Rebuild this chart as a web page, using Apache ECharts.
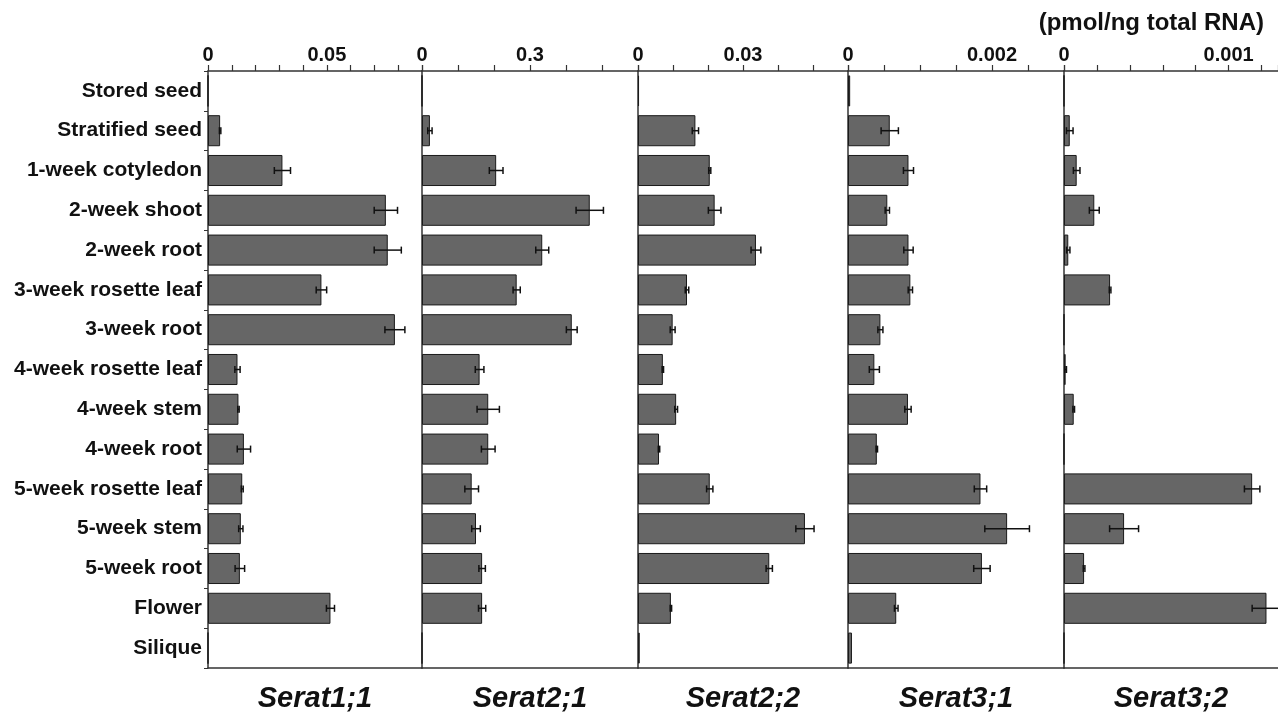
<!DOCTYPE html>
<html>
<head>
<meta charset="utf-8">
<script src="https://cdn.jsdelivr.net/npm/echarts@6/dist/echarts.min.js"></script>
<style>html,body{margin:0;padding:0;background:#fff;}#c{width:1278px;height:715px;}</style>
</head>
<body>
<div id="c"></div>
<script>
const categories = ['Stored seed','Stratified seed','1-week cotyledon','2-week shoot','2-week root','3-week rosette leaf','3-week root','4-week rosette leaf','4-week stem','4-week root','5-week rosette leaf','5-week stem','5-week root','Flower','Silique'];

const geneNames = ['Serat1;1','Serat2;1','Serat2;2','Serat3;1','Serat3;2'];

const serat11 = [0, 0.0051, 0.0313, 0.0748, 0.0756, 0.0477, 0.0786, 0.0124, 0.0128, 0.0151, 0.0144, 0.0138, 0.0134, 0.0515, 0];
const serat11Err = [0, 0.0003, 0.0034, 0.0049, 0.0057, 0.0022, 0.0042, 0.0011, 0.0003, 0.0028, 0.0004, 0.0009, 0.0020, 0.0017, 0];

const serat21 = [0, 0.022, 0.206, 0.466, 0.334, 0.263, 0.416, 0.160, 0.184, 0.184, 0.138, 0.150, 0.167, 0.167, 0];
const serat21Err = [0, 0.006, 0.019, 0.038, 0.018, 0.010, 0.015, 0.012, 0.031, 0.019, 0.019, 0.012, 0.009, 0.010, 0];

const serat22 = [0.0003, 0.0164, 0.0205, 0.0219, 0.0337, 0.0140, 0.0099, 0.0071, 0.0109, 0.0060, 0.0205, 0.0477, 0.0375, 0.0094, 0.0005];
const serat22Err = [0, 0.0009, 0.0003, 0.0018, 0.0014, 0.0005, 0.0007, 0.0002, 0.0004, 0.0002, 0.0009, 0.0026, 0.0009, 0.0002, 0];

const serat31 = [0.00003, 0.00058, 0.00084, 0.000546, 0.00084, 0.000866, 0.00045, 0.000366, 0.000833, 0.0004, 0.00184, 0.00221, 0.00186, 0.00067, 0.000055];
const serat31Err = [0, 0.00012, 0.00007, 0.00003, 0.000065, 0.00003, 0.000035, 0.00007, 0.000044, 0.00001, 0.000086, 0.00031, 0.000114, 0.000025, 0];

const serat32 = [0, 0.000035, 0.000077, 0.000184, 0.000026, 0.00028, 0, 0.00001, 0.000059, 0, 0.001143, 0.000365, 0.000122, 0.00123, 0];
const serat32Err = [0, 0.00002, 0.00002, 0.00003, 0.00001, 0.000005, 0, 0.000005, 0.000005, 0, 0.000047, 0.000088, 0.000005, 0.000087, 0];

const axisMax = [0.09, 0.6, 0.06, 0.003, 0.0013];
const axisInterval = [0.01, 0.1, 0.01, 0.0005, 0.0002];
const tickLabels = [[0, 0.05], [0, 0.3], [0, 0.03], [0, 0.002], [0, 0.001]];

const unitTitle = '(pmol/ng total RNA)';

const values = [serat11, serat21, serat22, serat31, serat32];
const errors = [serat11Err, serat21Err, serat22Err, serat31Err, serat32Err];

const gridLeft = [208, 422, 638, 848, 1064];
const gridWidth = [214, 216, 210, 216, 214];

const FONT = '"Liberation Sans", Arial, Helvetica, sans-serif';
const AXIS_COLOR = '#333';

const grids = [], xAxes = [], yAxes = [], series = [];
for (let i = 0; i < 5; i++) {
  grids.push({ left: gridLeft[i], width: gridWidth[i], top: 71, height: 597, outerBoundsMode: 'none', containLabel: false });
  const labs = tickLabels[i];
  xAxes.push({
    type: 'value', gridIndex: i, position: 'top', min: 0, max: axisMax[i], interval: axisInterval[i],
    axisLine: { show: true, lineStyle: { color: AXIS_COLOR, width: 1.5 } },
    axisTick: { show: true, length: 6, lineStyle: { color: AXIS_COLOR, width: 1.2 } },
    splitLine: { show: false },
    axisLabel: {
      show: true, margin: 6, fontFamily: FONT, fontWeight: 'bold', fontSize: 20, color: '#111',
      showMinLabel: true, showMaxLabel: true,
      formatter: function (v) {
        for (const t of labs) { if (Math.abs(v - t) < axisInterval[i] * 1e-3) return String(t); }
        return '';
      }
    }
  });
  xAxes.push({
    type: 'value', gridIndex: i, position: 'bottom', min: 0, max: axisMax[i],
    axisLine: { show: true, lineStyle: { color: AXIS_COLOR, width: 1.5 } },
    axisTick: { show: false }, axisLabel: { show: false }, splitLine: { show: false },
    name: geneNames[i], nameLocation: 'middle', nameGap: 16,
    nameTextStyle: { fontFamily: FONT, fontWeight: 'bold', fontStyle: 'italic', fontSize: 29, color: '#111', verticalAlign: 'top' }
  });
  yAxes.push({
    type: 'category', gridIndex: i, data: categories, inverse: true,
    axisLine: { show: true, onZero: false, lineStyle: { color: AXIS_COLOR, width: 1.5 } },
    axisTick: { show: i === 0, length: 4, lineStyle: { color: AXIS_COLOR, width: 1 } },
    axisLabel: { show: i === 0, margin: 6, fontFamily: FONT, fontWeight: 'bold', fontSize: 21, color: '#111' },
    splitLine: { show: false }
  });
  series.push({
    type: 'bar', xAxisIndex: i * 2, yAxisIndex: i, data: values[i], barCategoryGap: '22%',
    itemStyle: { color: '#666666', borderColor: '#1a1a1a', borderWidth: 1 },
    silent: true, animation: false
  });
  const errData = [];
  values[i].forEach((v, k) => { if (errors[i][k] > 0) errData.push([v - errors[i][k], v + errors[i][k], k]); });
  series.push({
    type: 'custom', xAxisIndex: i * 2, yAxisIndex: i, data: errData, animation: false, silent: true,
    encode: { x: [0, 1], y: 2 }, z: 5,
    renderItem: function (params, api) {
      const lo = api.coord([api.value(0), api.value(2)]);
      const hi = api.coord([api.value(1), api.value(2)]);
      const c = 3.5;
      const st = { stroke: '#111', lineWidth: 1.5 };
      return { type: 'group', children: [
        { type: 'line', shape: { x1: lo[0], y1: lo[1], x2: hi[0], y2: hi[1] }, style: st },
        { type: 'line', shape: { x1: lo[0], y1: lo[1] - c, x2: lo[0], y2: lo[1] + c }, style: st },
        { type: 'line', shape: { x1: hi[0], y1: hi[1] - c, x2: hi[0], y2: hi[1] + c }, style: st }
      ]};
    }
  });
}

const chart = echarts.init(document.getElementById('c'), null, { renderer: 'canvas' });
chart.setOption({
  backgroundColor: '#fff',
  animation: false,
  title: { text: unitTitle, right: 9, top: 6, textStyle: { fontFamily: FONT, fontWeight: 'bold', fontSize: 24, color: '#111' } },
  grid: grids, xAxis: xAxes, yAxis: yAxes, series: series
});
</script>
</body>
</html>
